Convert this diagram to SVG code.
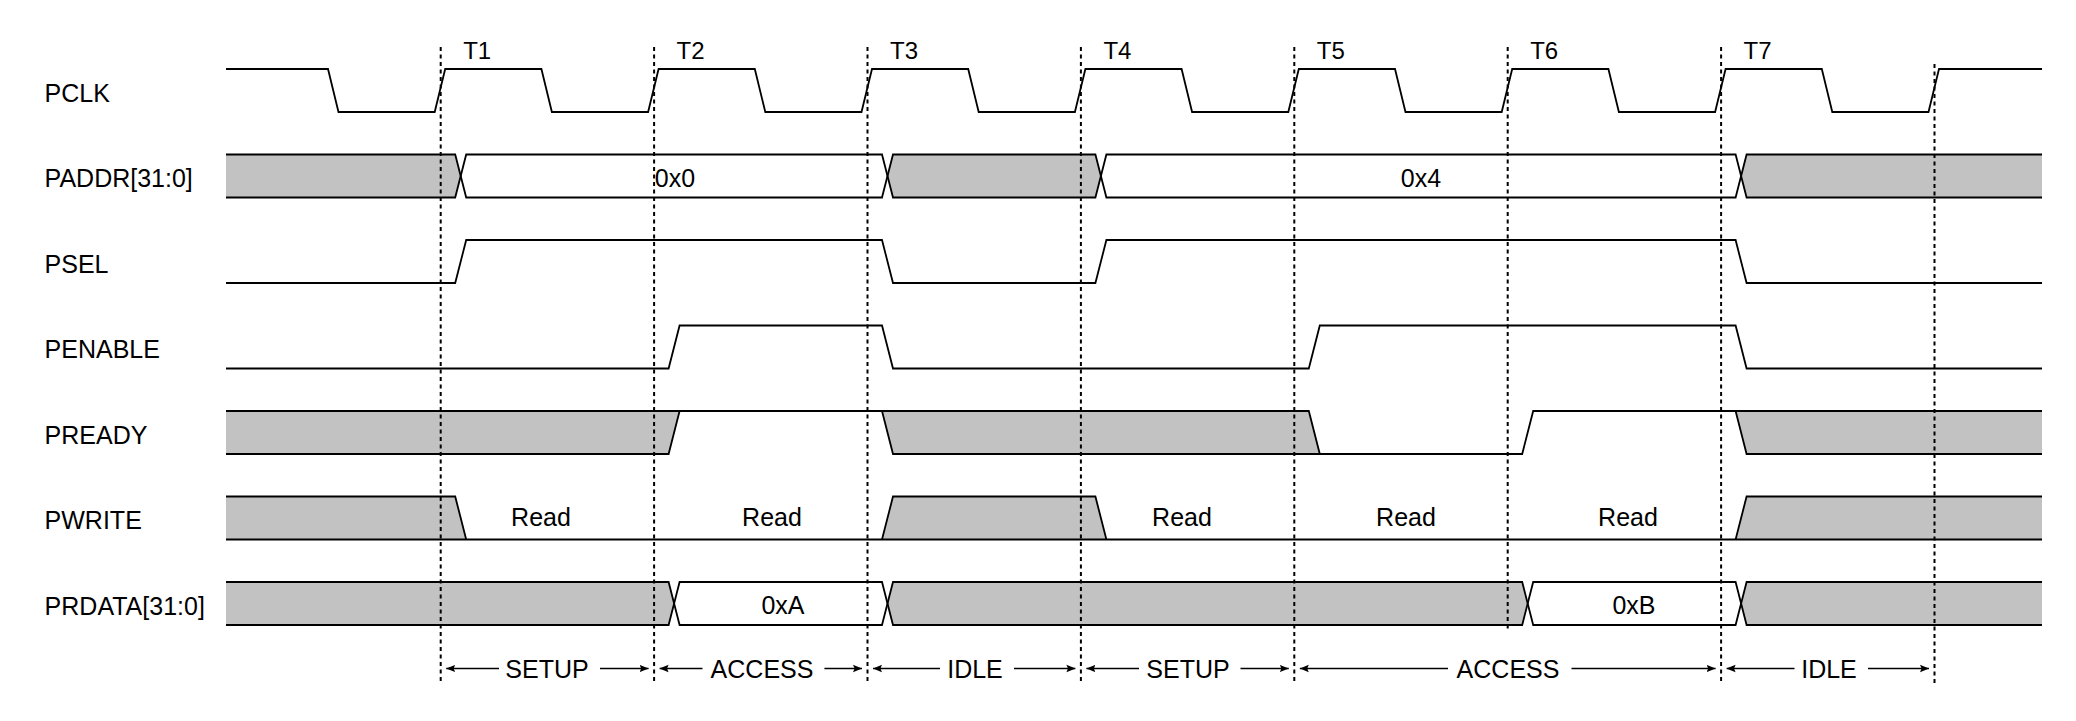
<svg xmlns="http://www.w3.org/2000/svg" width="2076" height="721" viewBox="0 0 2076 721">
<style>
text{font-family:"Liberation Sans",Arial,sans-serif;font-size:25px;fill:#000}
.t{font-size:24px}
.m{text-anchor:middle}
.w{fill:none;stroke:#000;stroke-width:1.8;stroke-linejoin:miter}
.g{fill:#c1c2c1;stroke:none}
.d{fill:none;stroke:#000;stroke-width:2;stroke-dasharray:4 3.5}
.a{fill:none;stroke:#000;stroke-width:1.7}
</style>
<defs>
<marker id="ah" viewBox="0 0 9 9" refX="9" refY="4.5" markerWidth="9" markerHeight="9" markerUnits="userSpaceOnUse" orient="auto">
<path d="M0,0.8 L9,4.5 L0,8.2 L1.6,4.5 z" fill="#000"/>
</marker>
</defs>
<rect width="2076" height="721" fill="#fff"/>

<g id="labels">
<text x="44.6" y="101.5">PCLK</text>
<text x="44.6" y="187">PADDR[31:0]</text>
<text x="44.6" y="272.5">PSEL</text>
<text x="44.6" y="358">PENABLE</text>
<text x="44.6" y="443.5">PREADY</text>
<text x="44.6" y="529">PWRITE</text>
<text x="44.6" y="614.5">PRDATA[31:0]</text>
</g>

<g id="cycle-labels">
<text class="t" x="463.2" y="59.3">T1</text>
<text class="t" x="676.6" y="59.3">T2</text>
<text class="t" x="890" y="59.3">T3</text>
<text class="t" x="1103.4" y="59.3">T4</text>
<text class="t" x="1316.8" y="59.3">T5</text>
<text class="t" x="1530.2" y="59.3">T6</text>
<text class="t" x="1743.6" y="59.3">T7</text>
</g>

<g id="PCLK">
<path class="w" d="M226,69 L328,69 L338.5,112 L434.7,112 L445.2,69 L541.4,69 L551.9,112 L648.1,112 L658.6,69 L754.8,69 L765.3,112 L861.5,112 L872,69 L968.2,69 L978.7,112 L1074.9,112 L1085.4,69 L1181.6,69 L1192.1,112 L1288.3,112 L1298.8,69 L1395,69 L1405.5,112 L1501.7,112 L1512.2,69 L1608.4,69 L1618.9,112 L1715.1,112 L1725.6,69 L1821.8,69 L1832.3,112 L1928.5,112 L1939,69 L2042,69"/>
</g>

<g id="PADDR">
<polygon class="g" points="226,154.5 455.2,154.5 460.7,176 455.2,197.5 226,197.5"/>
<polygon class="g" points="887.5,176 893,154.5 1095.4,154.5 1100.9,176 1095.4,197.5 893,197.5"/>
<polygon class="g" points="1741.1,176 1746.6,154.5 2042,154.5 2042,197.5 1746.6,197.5"/>
<path class="w" d="M226,154.5 H455.2 L466.2,197.5 H882 L893,154.5 H1095.4 L1106.4,197.5 H1735.6 L1746.6,154.5 H2042"/>
<path class="w" d="M226,197.5 H455.2 L466.2,154.5 H882 L893,197.5 H1095.4 L1106.4,154.5 H1735.6 L1746.6,197.5 H2042"/>
<text class="m" x="675" y="187.3">0x0</text>
<text class="m" x="1421" y="187.3">0x4</text>
</g>

<g id="PSEL">
<path class="w" d="M226,283 H455.2 L466.2,240 H882 L893,283 H1095.4 L1106.4,240 H1735.6 L1746.6,283 H2042"/>
</g>

<g id="PENABLE">
<path class="w" d="M226,368.5 H668.6 L679.6,325.5 H882 L893,368.5 H1308.8 L1319.8,325.5 H1735.6 L1746.6,368.5 H2042"/>
</g>

<g id="PREADY">
<polygon class="g" points="226,411 679.6,411 668.6,454 226,454"/>
<polygon class="g" points="882,411 1308.8,411 1319.8,454 893,454"/>
<polygon class="g" points="1735.6,411 2042,411 2042,454 1746.6,454"/>
<path class="w" d="M226,411 H1308.8 L1319.8,454 H1522.2 L1533.2,411 H2042"/>
<path class="w" d="M226,454 H668.6 L679.6,411"/>
<path class="w" d="M882,411 L893,454 H1319.8"/>
<path class="w" d="M1735.6,411 L1746.6,454 H2042"/>
</g>

<g id="PWRITE">
<polygon class="g" points="226,496.5 455.2,496.5 466.2,539.5 226,539.5"/>
<polygon class="g" points="882,539.5 893,496.5 1095.4,496.5 1106.4,539.5"/>
<polygon class="g" points="1735.6,539.5 1746.6,496.5 2042,496.5 2042,539.5"/>
<path class="w" d="M226,539.5 H2042"/>
<path class="w" d="M226,496.5 H455.2 L466.2,539.5"/>
<path class="w" d="M882,539.5 L893,496.5 H1095.4 L1106.4,539.5"/>
<path class="w" d="M1735.6,539.5 L1746.6,496.5 H2042"/>
<text class="m" x="541" y="526">Read</text>
<text class="m" x="772" y="526">Read</text>
<text class="m" x="1182" y="526">Read</text>
<text class="m" x="1406" y="526">Read</text>
<text class="m" x="1628" y="526">Read</text>
</g>

<g id="PRDATA">
<polygon class="g" points="226,582 668.6,582 674.1,603.5 668.6,625 226,625"/>
<polygon class="g" points="887.5,603.5 893,582 1522.2,582 1527.7,603.5 1522.2,625 893,625"/>
<polygon class="g" points="1741.1,603.5 1746.6,582 2042,582 2042,625 1746.6,625"/>
<path class="w" d="M226,582 H668.6 L679.6,625 H882 L893,582 H1522.2 L1533.2,625 H1735.6 L1746.6,582 H2042"/>
<path class="w" d="M226,625 H668.6 L679.6,582 H882 L893,625 H1522.2 L1533.2,582 H1735.6 L1746.6,625 H2042"/>
<text class="m" x="783" y="614.3">0xA</text>
<text class="m" x="1634" y="614.3">0xB</text>
</g>

<g id="connectors">
<line class="d" x1="440.7" y1="47" x2="440.7" y2="684"/>
<line class="d" x1="654.1" y1="47" x2="654.1" y2="684"/>
<line class="d" x1="867.5" y1="47" x2="867.5" y2="684"/>
<line class="d" x1="1080.9" y1="47" x2="1080.9" y2="684"/>
<line class="d" x1="1294.3" y1="47" x2="1294.3" y2="684"/>
<line class="d" x1="1507.7" y1="47" x2="1507.7" y2="632"/>
<line class="d" x1="1721.1" y1="47" x2="1721.1" y2="684"/>
<line class="d" x1="1934.5" y1="64" x2="1934.5" y2="684"/>

<path class="a" marker-end="url(#ah)" d="M499,668.5 H446.2"/>
<path class="a" marker-end="url(#ah)" d="M600,668.5 H648.6"/>
<path class="a" marker-end="url(#ah)" d="M702.5,668.5 H659.6"/>
<path class="a" marker-end="url(#ah)" d="M824.4,668.5 H862"/>
<path class="a" marker-end="url(#ah)" d="M940,668.5 H873"/>
<path class="a" marker-end="url(#ah)" d="M1014,668.5 H1075.4"/>
<path class="a" marker-end="url(#ah)" d="M1139,668.5 H1086.4"/>
<path class="a" marker-end="url(#ah)" d="M1240.5,668.5 H1288.8"/>
<path class="a" marker-end="url(#ah)" d="M1448,668.5 H1299.8"/>
<path class="a" marker-end="url(#ah)" d="M1571.5,668.5 H1715.6"/>
<path class="a" marker-end="url(#ah)" d="M1794.5,668.5 H1726.6"/>
<path class="a" marker-end="url(#ah)" d="M1868,668.5 H1929"/>
</g>

<g id="phases">
<text class="m" x="547" y="677.5">SETUP</text>
<text class="m" x="762" y="677.5">ACCESS</text>
<text class="m" x="975" y="677.5">IDLE</text>
<text class="m" x="1188" y="677.5">SETUP</text>
<text class="m" x="1508" y="677.5">ACCESS</text>
<text class="m" x="1829" y="677.5">IDLE</text>
</g>
</svg>
